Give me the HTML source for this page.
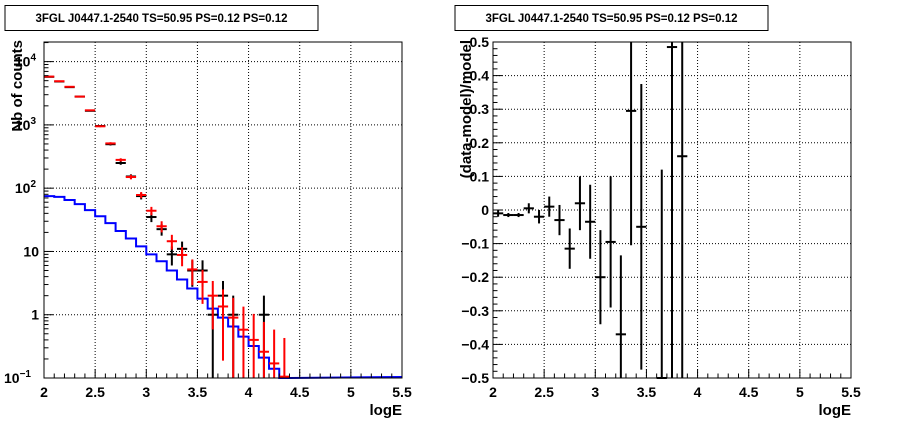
<!DOCTYPE html>
<html><head><meta charset="utf-8"><style>
html,body{margin:0;padding:0;background:#fff;}
svg{display:block;font-family:"Liberation Sans",Arial,sans-serif;font-weight:bold;}
</style></head><body>
<svg id="c" width="898" height="421" viewBox="0 0 898 421"></svg>
<script>
const binLo = [2.0,2.1,2.2,2.3,2.4,2.5,2.6,2.7,2.8,2.9,3.0,3.1,3.2,3.3,3.4,3.5,3.6,3.7,3.8,3.9,4.0,4.1,4.2,4.3];
const modelVals = [75,73,65,56,45,36,28,21,16,12,9,7,5,3.6,2.6,1.8,1.25,0.9,0.65,0.45,0.32,0.21,0.14,0.1];
const redVals = [5800,4900,4000,2800,1700,950,510,280,150,78,44,25,14.5,8.8,5.2,3.3,2.0,1.35,0.9,0.58,0.4,0.26,0.17,0.105];
const dataVals = [5750,4850,3950,2800,1670,960,495,250,153,75,35,22.5,9,11,5,5,1,2,1,0,0,1,0,0];
const resX = [2.05,2.15,2.25,2.35,2.45,2.55,2.65,2.75,2.85,2.95,3.05,3.15,3.25,3.35,3.45,3.65,3.75,3.85];
const resVals = [-0.01,-0.015,-0.015,0.005,-0.02,0.01,-0.03,-0.115,0.02,-0.035,-0.2,-0.095,-0.37,0.295,-0.05,-0.5,0.485,0.16];
const resErr = [0.01,0.006,0.006,0.015,0.02,0.03,0.045,0.06,0.08,0.11,0.14,0.195,0.235,0.4,0.425,0.62,1.5,1.5];
const xTicks = ["2","2.5","3","3.5","4","4.5","5","5.5"];
const resTicks = ["\u22120.5","\u22120.4","\u22120.3","\u22120.2","\u22120.1","0","0.1","0.2","0.3","0.4","0.5"];

const NS="http://www.w3.org/2000/svg";
const svg=document.getElementById('c');
function el(tag,attrs,parent){const e=document.createElementNS(NS,tag);for(const k in attrs)e.setAttribute(k,attrs[k]);(parent||svg).appendChild(e);return e;}

function pad(x0,x1,y0,y1,yfun,prefix){
  const g=el('g',{});
  
  
  const xs=v=>x0+(v-2)/3.5*(x1-x0);
  return {g,xs,ys:yfun};
}
function line(g,x1,y1,x2,y2,st,w,dash){const l=el('line',{x1,y1,x2,y2,stroke:st,'stroke-width':w||1},g);if(dash)l.setAttribute('stroke-dasharray',dash);return l;}
function text(g,x,y,s,size,anchor,name){const t=el('text',{x,y,'font-size':size,'text-anchor':anchor||'middle',fill:'#000'},g);t.textContent=s;return t;}

function titleBox(x,w,name){
  const g=el('g',{});
  el('rect',{x:x,y:5.5,width:w,height:25,fill:'#fff',stroke:'#000','stroke-width':1},g);
  text(g,x+w/2,22,'3FGL J0447.1-2540 TS=50.95 PS=0.12 PS=0.12',11.5,'middle','plot-title');
}

// ---------- Left pad ----------
{
const X0=44,X1=402,Y0=42,Y1=378;
const lmin=-1,lmax=4.31;
const ys=v=>{let l=Math.log10(Math.max(v,1e-9));if(l<lmin)l=lmin;return Y1-(l-lmin)/(lmax-lmin)*(Y1-Y0);};
const P=pad(X0,X1,Y0,Y1,ys,'counts');const g=P.g,xs=P.xs;
el('rect',{x:X0,y:Y0,width:X1-X0,height:Y1-Y0,fill:'#fff'},g);
// grid
xTicks.forEach((t,i)=>{const v=2+0.5*i;if(i>0&&i<7)line(g,xs(v),Y0,xs(v),Y1,'#000',1,'1,2');});
for(let d=-1;d<=4;d++){if(d>-1)line(g,X0,ys(Math.pow(10,d)),X1,ys(Math.pow(10,d)),'#000',1,'1,2');}
// blue model histogram
let pth='';
for(let i=0;i<binLo.length;i++){const xa=xs(binLo[i]),xb=xs(binLo[i]+0.1),y=ys(modelVals[i]);pth+=(i===0?'M':'L')+xa+','+y+' L'+xb+','+y+' ';}
pth+='L'+xs(5.5)+','+(Y1-1);
const mp=el('path',{d:pth,fill:'none',stroke:'#0000ff','stroke-width':2},g);

// black data
function pts(vals,color,name){
  for(let i=0;i<binLo.length;i++){const n=vals[i];if(n<=0)continue;
    const xc=xs(binLo[i]+0.05),e=Math.sqrt(n);
    const gg=el('g',{},g);
    const lo=n-e>0?ys(n-e):Y1;
    line(gg,xc,ys(n+e),xc,lo,color,2);
    line(gg,xs(binLo[i]),ys(n),xs(binLo[i]+0.1),ys(n),color,2);
  }
}
pts(dataVals,'#000','data-point');
pts(redVals,'#ff0000','sum-model-point');
// frame
el('rect',{x:X0,y:Y0,width:X1-X0,height:Y1-Y0,fill:'none',stroke:'#000','stroke-width':1},g);
// x ticks
for(let i=0;i<=35;i++){const v=2+i*0.1,x=xs(v);line(g,x,Y1,x,Y1-(i%5===0?9:4.5),'#000',1);}
xTicks.forEach((t,i)=>text(g,xs(2+0.5*i),397,t,14,'middle','x-tick-label'));
text(g,X1,415,'logE',15,'end','x-axis-title');
// y ticks
for(let d=-1;d<=4;d++){for(let m=1;m<=9;m++){const v=m*Math.pow(10,d);const y=ys(v);if(y<Y0)continue;line(g,X0,y,X0+(m===1?9:4.5),y,'#000',1);}}
const ylab=[[-1,'10','\u22121'],[0,'1',''],[1,'10',''],[2,'10','2'],[3,'10','3'],[4,'10','4']];
ylab.forEach(a=>{const y=ys(Math.pow(10,a[0]))+5;
  if(a[2]){const t=text(g,a[2].length>1?31:36,y,a[1],14,'end','y-tick-label');const s=el('tspan',{dy:-6,'font-size':10},t);s.textContent=a[2];}
  else text(g,39,y,a[1],14,'end','y-tick-label');});
const yt=text(g,0,0,'Nb of counts',15,'end','y-axis-title');yt.setAttribute('transform','translate(22,40) rotate(-90)');
}
// ---------- Right pad ----------
{
const X0=493,X1=851,Y0=42,Y1=378;
const ys=v=>{if(v<-0.5)v=-0.5;if(v>0.5)v=0.5;return Y1-(v+0.5)*(Y1-Y0);};
const P=pad(X0,X1,Y0,Y1,ys,'residual');const g=P.g,xs=P.xs;
el('rect',{x:X0,y:Y0,width:X1-X0,height:Y1-Y0,fill:'#fff'},g);
xTicks.forEach((t,i)=>{const v=2+0.5*i;if(i>0&&i<7)line(g,xs(v),Y0,xs(v),Y1,'#000',1,'1,2');});
for(let i=1;i<10;i++){const y=ys(-0.5+i*0.1);line(g,X0,y,X1,y,'#000',1,'1,2');}
for(let i=0;i<resX.length;i++){
  const gg=el('g',{},g);
  const xc=xs(resX[i]);
  line(gg,xc,ys(resVals[i]+resErr[i]),xc,ys(resVals[i]-resErr[i]),'#000',2);
  line(gg,xs(resX[i]-0.05),ys(resVals[i]),xs(resX[i]+0.05),ys(resVals[i]),'#000',2);
}
el('rect',{x:X0,y:Y0,width:X1-X0,height:Y1-Y0,fill:'none',stroke:'#000','stroke-width':1},g);
for(let i=0;i<=35;i++){const x=xs(2+i*0.1);line(g,x,Y1,x,Y1-(i%5===0?9:4.5),'#000',1);}
for(let i=0;i<=50;i++){const y=ys(-0.5+i*0.02);line(g,X0,y,X0+(i%5===0?9:4.5),y,'#000',1);}
xTicks.forEach((t,i)=>text(g,xs(2+0.5*i),397,t,14,'middle','x-tick-label'));
text(g,X1,415,'logE',15,'end','x-axis-title');
resTicks.forEach((t,i)=>text(g,489,ys(-0.5+0.1*i)+5,t,14,'end','y-tick-label'));
const yt=text(g,0,0,'(data-model)/model',15,'end','y-axis-title');yt.setAttribute('transform','translate(471,40) rotate(-90)');
}
titleBox(5,313,'left-title-box');
titleBox(455,313,'right-title-box');
</script>
</body></html>
